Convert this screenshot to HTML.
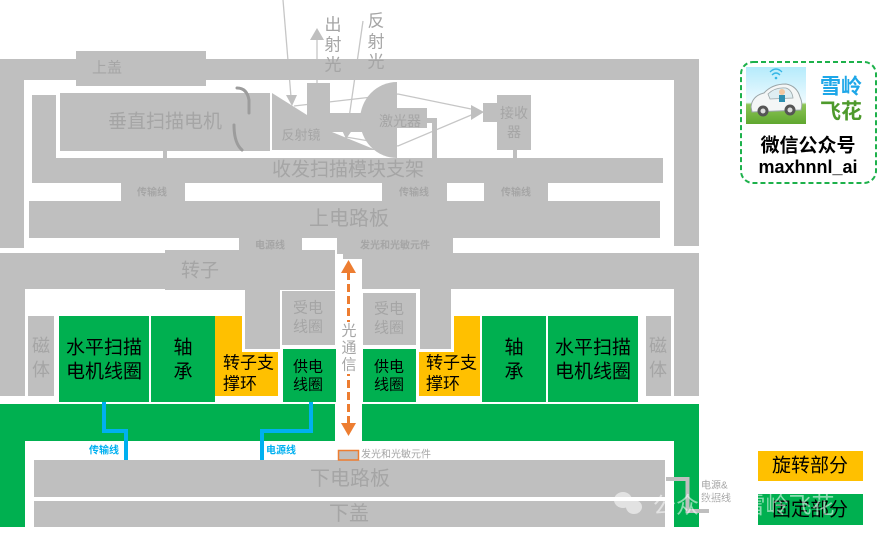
<!DOCTYPE html>
<html><head><meta charset="utf-8"><style>
html,body{margin:0;padding:0;background:#fff;}
svg{display:block;}
text{font-family:"Liberation Sans","Noto Sans CJK SC",sans-serif;}
</style></head><body>
<svg width="879" height="538" viewBox="0 0 879 538" xmlns="http://www.w3.org/2000/svg">
<defs>
<linearGradient id="sky" x1="0" y1="0" x2="0" y2="1">
<stop offset="0" stop-color="#b5ebfb"/><stop offset="0.62" stop-color="#eefaff"/><stop offset="0.66" stop-color="#8cc556"/><stop offset="1" stop-color="#5fa72f"/>
</linearGradient>
</defs>
<!-- light lines (under shapes) -->
<g stroke="#c6c6c6" stroke-width="1.3" fill="none">
<line x1="283" y1="0" x2="291" y2="97"/>
<line x1="317" y1="83" x2="317" y2="40"/>
<line x1="363" y1="21" x2="347" y2="132"/>
<polyline points="294,106 398,94 476,110"/>
<polyline points="346,137 398,146 476,113"/>
</g>
<g fill="#bfbfbf">
<!-- top cover -->
<rect x="0" y="59" width="699" height="21"/>
<rect x="0" y="59" width="24" height="189"/>
<rect x="674" y="59" width="25" height="187"/>
<rect x="76" y="51" width="130" height="35"/>
<!-- motor -->
<rect x="60" y="93" width="210" height="58"/>
<rect x="163" y="151" width="4" height="7"/>
<!-- mirror -->
<polygon points="272,93 307,115 307,83 330,83 330,113 372,113 372,132 332,132 376,150 272,150"/>
<!-- laser -->
<path d="M397,82 A37,38 0 0 0 397,158 Z"/>
<rect x="396" y="108" width="31" height="20"/>
<rect x="426" y="118" width="11" height="5"/>
<rect x="432" y="118" width="5" height="40"/>
<!-- receiver -->
<rect x="483" y="103" width="15" height="19"/>
<rect x="497" y="95" width="34" height="55"/>
<rect x="513" y="149" width="4" height="9"/>
<!-- bracket -->
<rect x="32" y="158" width="631" height="25"/>
<rect x="32" y="95" width="24" height="88"/>
<!-- transmission boxes -->
<rect x="121" y="183" width="64" height="18"/>
<rect x="382" y="183" width="65" height="18"/>
<rect x="484" y="183" width="64" height="18"/>
<!-- upper PCB -->
<rect x="29" y="201" width="631" height="37"/>
<rect x="239" y="238" width="63" height="16"/>
<rect x="337" y="238" width="116" height="16"/>
<!-- rotor -->
<rect x="0" y="253" width="335" height="36"/>
<rect x="165" y="250" width="170" height="40"/>
<rect x="0" y="253" width="25" height="143"/>
<rect x="245" y="289" width="35" height="60"/>
<rect x="282" y="291" width="53" height="54"/>
<rect x="343" y="253" width="19" height="6"/>
<rect x="362" y="253" width="337" height="36"/>
<rect x="674" y="253" width="25" height="143"/>
<rect x="420" y="289" width="31" height="60"/>
<rect x="363" y="293" width="53" height="52"/>
<!-- magnets -->
<rect x="28" y="316" width="26" height="80"/>
<rect x="646" y="316" width="25" height="80"/>
<!-- lower pcb, cover -->
<rect x="34" y="460" width="631" height="37"/>
<rect x="34" y="501" width="631" height="26"/>
<!-- arrowheads -->
<polygon points="286,95 297,95 292,106"/>
<polygon points="310,40 324,40 317,28"/>
<polygon points="341,128 353,129 346,139"/>
<polygon points="471,105 484,112 471,120"/>
</g>
<!-- ring -->
<g stroke="#9c9c9c" stroke-width="3" fill="none" stroke-linecap="round">
<path d="M237,88 Q247,88 249,100 L249,113"/>
<path d="M234,125 Q234,143 242,150"/>
</g>
<!-- green parts -->
<g fill="#00b050">
<rect x="59" y="316" width="90" height="86"/>
<rect x="151" y="316" width="64" height="86"/>
<rect x="283" y="349" width="53" height="53"/>
<rect x="363" y="349" width="53" height="53"/>
<rect x="482" y="316" width="64" height="86"/>
<rect x="548" y="316" width="90" height="86"/>
<rect x="0" y="404" width="335" height="37"/>
<rect x="362" y="404" width="337" height="37"/>
<rect x="0" y="404" width="25" height="123"/>
<rect x="674" y="404" width="25" height="123"/>
<rect x="758" y="494" width="105" height="31"/>
</g>
<!-- yellow -->
<g fill="#ffc000">
<polygon points="215,316 242,316 242,352 278,352 278,396 215,396"/>
<polygon points="454,316 480,316 480,396 419,396 419,352 454,352"/>
<rect x="758" y="451" width="105" height="30"/>
</g>
<!-- blue wires -->
<g stroke="#00b0f0" stroke-width="4" fill="none">
<polyline points="104,402 104,431 126,431 126,460"/>
<polyline points="311,402 311,431 262,431 262,460"/>
</g>
<!-- power&data wire -->
<polyline points="666,479 687.5,479 687.5,511 709,511" stroke="#bfbfbf" stroke-width="4" fill="none"/>
<!-- optical channel -->
<line x1="348.5" y1="272" x2="348.5" y2="423" stroke="#ed7d31" stroke-width="3" stroke-dasharray="8 4"/>
<polygon points="341,273 356,273 348.5,260" fill="#ed7d31"/>
<polygon points="341,423 356,423 348.5,436" fill="#ed7d31"/>
<rect x="341" y="322" width="15" height="52" fill="#fff"/>
<!-- legend small box -->
<rect x="338.5" y="450.5" width="20" height="9.5" fill="#bfbfbf" stroke="#ed7d31" stroke-width="1.5"/>

<!-- gray labels -->
<g fill="#a5a5a5" text-anchor="middle" dominant-baseline="central">
<text x="107" y="68" font-size="15">上盖</text>
<text x="165" y="122" font-size="19">垂直扫描电机</text>
<text x="301" y="135" font-size="13">反射镜</text>
<text x="400" y="121" font-size="14">激光器</text>
<text x="514" y="113" font-size="14">接收</text>
<text x="514" y="132" font-size="14">器</text>
<text x="348" y="170" font-size="19">收发扫描模块支架</text>
<text x="152" y="193" font-size="10" font-weight="bold">传输线</text>
<text x="414" y="193" font-size="10" font-weight="bold">传输线</text>
<text x="516" y="193" font-size="10" font-weight="bold">传输线</text>
<text x="349" y="219" font-size="20">上电路板</text>
<text x="270" y="246" font-size="10" font-weight="bold">电源线</text>
<text x="395" y="246" font-size="10" font-weight="bold">发光和光敏元件</text>
<text x="200" y="271" font-size="19">转子</text>
<text x="308" y="308" font-size="15">受电</text>
<text x="308" y="327" font-size="15">线圈</text>
<text x="389" y="309" font-size="15">受电</text>
<text x="389" y="328" font-size="15">线圈</text>
<text x="41" y="346" font-size="18">磁</text>
<text x="41" y="370" font-size="18">体</text>
<text x="658" y="346" font-size="18">磁</text>
<text x="658" y="370" font-size="18">体</text>
<text x="349" y="331" font-size="15">光</text>
<text x="349" y="348" font-size="15">通</text>
<text x="349" y="365" font-size="15">信</text>
<text x="350" y="479" font-size="20">下电路板</text>
<text x="349" y="514" font-size="20">下盖</text>
<text x="333" y="25" font-size="17">出</text>
<text x="333" y="45" font-size="17">射</text>
<text x="333" y="65" font-size="17">光</text>
<text x="376" y="21" font-size="17">反</text>
<text x="376" y="42" font-size="17">射</text>
<text x="376" y="62" font-size="17">光</text>
</g>
<g fill="#a5a5a5" dominant-baseline="central" font-size="10">
<text x="361" y="455">发光和光敏元件</text>
<text x="701" y="486">电源&amp;</text>
<text x="701" y="499">数据线</text>
</g>
<g fill="#00b0f0" font-size="10" font-weight="bold" dominant-baseline="central">
<text x="89" y="451">传输线</text>
<text x="266" y="451">电源线</text>
</g>
<!-- black labels -->
<g fill="#000" text-anchor="middle" dominant-baseline="central">
<text x="104" y="348" font-size="19">水平扫描</text>
<text x="104" y="372" font-size="19">电机线圈</text>
<text x="183" y="348" font-size="19">轴</text>
<text x="183" y="372" font-size="19">承</text>
<text x="593" y="348" font-size="19">水平扫描</text>
<text x="593" y="372" font-size="19">电机线圈</text>
<text x="514" y="348" font-size="19">轴</text>
<text x="514" y="372" font-size="19">承</text>
<text x="308" y="367" font-size="15">供电</text>
<text x="308" y="385" font-size="15">线圈</text>
<text x="389" y="367" font-size="15">供电</text>
<text x="389" y="385" font-size="15">线圈</text>
<text x="810" y="466" font-size="19">旋转部分</text>
<text x="810" y="510" font-size="19">固定部分</text>
</g>
<g fill="#000" dominant-baseline="central" font-size="17">
<text x="223" y="363">转子支</text>
<text x="223" y="384">撑环</text>
<text x="426" y="363">转子支</text>
<text x="426" y="384">撑环</text>
</g>

<!-- logo -->
<rect x="741" y="62" width="135" height="121" rx="12" fill="#fff" stroke="#1db14b" stroke-width="2" stroke-dasharray="5 3"/>
<rect x="746" y="67" width="60" height="57" fill="url(#sky)"/>
<g>
<path d="M751,107 Q752,96 764,93 Q772,84 786,84 Q797,86 800,97 Q803,103 801,110 L752,112 Z" fill="#f4f6f6" stroke="#9aa5a8" stroke-width="1"/>
<path d="M768,94 Q775,87 786,88 Q792,90 793,98 L770,99 Z" fill="#dfeef2" stroke="#9aa5a8" stroke-width="0.8"/>
<circle cx="782" cy="92" r="3" fill="#f1c7a0"/>
<rect x="779" y="95" width="6" height="7" fill="#2d8fb0"/>
<circle cx="763" cy="111" r="5.5" fill="#555"/><circle cx="763" cy="111" r="2.5" fill="#ddd"/>
<circle cx="790" cy="110" r="5.5" fill="#555"/><circle cx="790" cy="110" r="2.5" fill="#ddd"/>
<path d="M772,75 Q776,71 780,75 M770,72 Q776,66 782,72" stroke="#36b7e6" stroke-width="1.3" fill="none"/>
<circle cx="776" cy="78" r="1.3" fill="#36b7e6"/>
</g>
<g text-anchor="middle" dominant-baseline="central" font-weight="bold">
<text x="841" y="87" font-size="21" fill="#1ea7e8">雪岭</text>
<text x="841" y="112" font-size="21" fill="#4e9a2c">飞花</text>
<text x="808" y="146" font-size="19" fill="#000">微信公众号</text>
<text x="808" y="167" font-size="18" fill="#000">maxhnnl_ai</text>
</g>

<!-- watermark -->
<g opacity="0.55">
<ellipse cx="623" cy="500" rx="9" ry="8" fill="#fff"/>
<ellipse cx="634" cy="507" rx="8" ry="7" fill="#fff"/>
<text x="653" y="505" font-size="23" fill="#fff" dominant-baseline="central">公众号 · 雪岭飞花</text>
</g>
</svg>
</body></html>
